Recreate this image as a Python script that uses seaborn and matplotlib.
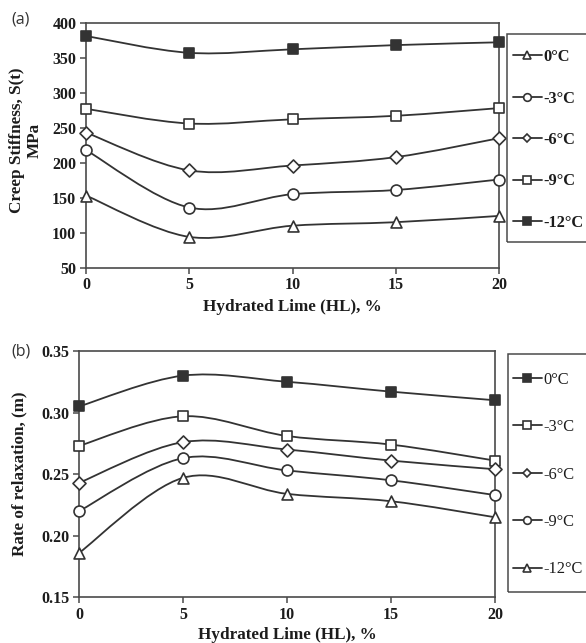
import numpy as np
import pandas as pd
import matplotlib
matplotlib.use("Agg")
import matplotlib.pyplot as plt
import seaborn as sns
from matplotlib.path import Path
from matplotlib.patches import PathPatch, Rectangle
from matplotlib.lines import Line2D

# ---------------- data ----------------
hl = [0, 5, 10, 15, 20]
temps = ["0°C", "-3°C", "-6°C", "-9°C", "-12°C"]

stiff_0 = [153, 94, 110, 115, 124]
stiff_m3 = [218, 136, 155, 161, 176]
stiff_m6 = [243, 189, 196, 208, 235]
stiff_m9 = [277, 256, 262, 267, 278]
stiff_m12 = [381, 357, 362, 368, 372]

relax_0 = [0.305, 0.330, 0.325, 0.317, 0.310]
relax_m3 = [0.273, 0.297, 0.281, 0.274, 0.261]
relax_m6 = [0.243, 0.276, 0.270, 0.261, 0.254]
relax_m9 = [0.220, 0.263, 0.253, 0.245, 0.233]
relax_m12 = [0.186, 0.247, 0.234, 0.228, 0.215]

x_ticks = [0, 5, 10, 15, 20]
y_ticks_a = [50, 100, 150, 200, 250, 300, 350, 400]
y_ticks_b = [0.15, 0.20, 0.25, 0.30, 0.35]

# ---------------- style ----------------
sns.set_theme(style="ticks")
plt.rcParams['font.family'] = ['Liberation Serif', 'DejaVu Serif']
TXT = '#1c1c1c'
LC = '#333333'
SP = '#4a4a4a'
TICK_FS = 11.5
LAB_FS = 12.3
LEG_FS = 11.8

W, H = 586, 643
fig = plt.figure(figsize=(W / 100, H / 100), dpi=100)


def ax_rect(l, r, t, b):
    return [l / W, 1 - b / H, (r - l) / W, (b - t) / H]


ax1 = fig.add_axes(ax_rect(86, 499, 22.7, 267.7))
ax2 = fig.add_axes(ax_rect(79, 495, 351, 597.3))


def smooth_path(xs, ys):
    """Excel-style smoothed line (Catmull-Rom as cubic Bezier segments)."""
    p = np.column_stack([xs, ys]).astype(float)
    n = len(p)
    verts = [p[0]]
    codes = [Path.MOVETO]
    for i in range(n - 1):
        p0 = p[i - 1] if i > 0 else p[i]
        p1 = p[i]
        p2 = p[i + 1]
        p3 = p[i + 2] if i + 2 < n else p[i + 1]
        c1 = p1 + (p2 - p0) / 6.0
        c2 = p2 - (p3 - p1) / 6.0
        verts += [c1, c2, p2]
        codes += [Path.CURVE4] * 3
    return Path(verts, codes)


def draw(ax, series, styles):
    for label, ys in zip(temps, series):
        mk, filled = styles[label]
        ax.add_patch(PathPatch(smooth_path(hl, ys), fill=False, edgecolor=LC,
                               lw=1.3, zorder=2))
        df = pd.DataFrame({"hl": hl, "v": ys})
        sns.scatterplot(data=df, x="hl", y="v", ax=ax, marker=mk,
                        s=62 if mk != 'D' else 44,
                        facecolor=LC if filled else 'white',
                        edgecolor=LC, linewidth=1.2, zorder=4, legend=False,
                        clip_on=False)


styles_a = {"0°C": ('^', False), "-3°C": ('o', False), "-6°C": ('D', False),
            "-9°C": ('s', False), "-12°C": ('s', True)}
styles_b = {"0°C": ('s', True), "-3°C": ('s', False), "-6°C": ('D', False),
            "-9°C": ('o', False), "-12°C": ('^', False)}

draw(ax1, [stiff_0, stiff_m3, stiff_m6, stiff_m9, stiff_m12], styles_a)
draw(ax2, [relax_0, relax_m3, relax_m6, relax_m9, relax_m12], styles_b)

for ax, yt, fmt in [(ax1, y_ticks_a, '{:.0f}'), (ax2, y_ticks_b, '{:.2f}')]:
    ax.set_xlim(0, 20)
    ax.set_ylim(yt[0], yt[-1])
    ax.set_xticks(x_ticks)
    ax.set_xticklabels([str(t) for t in x_ticks])
    ax.set_yticks(yt)
    ax.set_yticklabels([fmt.format(t) for t in yt])
    for s in ax.spines.values():
        s.set_visible(True)
        s.set_color(SP)
        s.set_linewidth(1.2)
    ax.tick_params(axis='both', direction='out', length=4, width=1.1,
                   color=SP, labelsize=TICK_FS, labelcolor=TXT, pad=3)
    for lab in ax.get_xticklabels() + ax.get_yticklabels():
        lab.set_fontweight('bold')
    ax.set_facecolor('white')
    ax.grid(False)

ax1.set_xlabel("Hydrated Lime (HL), %", fontsize=LAB_FS, fontweight='bold', color=TXT)
ax1.set_ylabel("Creep Stiffness, S(t)\nMPa", fontsize=LAB_FS, fontweight='bold',
               color=TXT, multialignment='center', linespacing=1.15)
ax1.xaxis.set_label_coords(0.5, -0.127)
ax1.yaxis.set_label_coords(-0.104, 0.52)

ax2.set_xlabel("Hydrated Lime (HL), %", fontsize=LAB_FS, fontweight='bold', color=TXT)
ax2.set_ylabel("Rate of relaxation, (m)", fontsize=LAB_FS, fontweight='bold', color=TXT)
ax2.xaxis.set_label_coords(0.5, -0.119)
ax2.yaxis.set_label_coords(-0.123, 0.5)


def legend(styles, box, first_row_px, bold, row_gap_px):
    l, t, b = box
    fig.patches.append(Rectangle((l / W, 1 - b / H), (W + 20 - l) / W, (b - t) / H,
                                 transform=fig.transFigure, fill=False,
                                 edgecolor=SP, linewidth=1.1, clip_on=False))
    handles = []
    for label in temps:
        mk, filled = styles[label]
        handles.append(Line2D([], [], color=LC, lw=1.3, marker=mk,
                              markersize=5.5 if mk != 'D' else 4.5,
                              markerfacecolor=LC if filled else 'white',
                              markeredgecolor=LC, markeredgewidth=1.2))
    fs_px = LEG_FS * 100 / 72
    row_h = 0.9 * fs_px
    leg = fig.legend(handles, temps, loc='upper left',
                     bbox_to_anchor=(513 / W, 1 - (first_row_px - row_h / 2) / H),
                     frameon=False, handlelength=1.75, handletextpad=0.08,
                     labelspacing=(row_gap_px - row_h) / fs_px,
                     borderpad=0, borderaxespad=0,
                     prop={'family': 'Liberation Serif', 'size': LEG_FS,
                           'weight': 'bold' if bold else 'normal'})
    for tx in leg.get_texts():
        tx.set_color(TXT)
    return leg


legend(styles_a, (507, 34, 242), 56.5, True, 40.2)
legend(styles_b, (508, 354, 592), 379, False, 46.2)

fig.text(11 / W, 1 - 19 / H, "(a)", fontsize=11.5, family=['Open Sans', 'DejaVu Sans'],
         color='#333333', va='center', ha='left')
fig.text(11 / W, 1 - 352 / H, "(b)", fontsize=11.5, family=['Open Sans', 'DejaVu Sans'],
         color='#333333', va='center', ha='left')

fig.savefig("out.png", dpi=100, facecolor='white')
